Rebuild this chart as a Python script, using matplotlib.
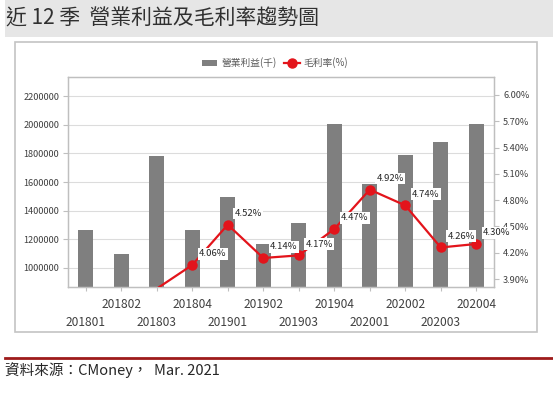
import matplotlib
matplotlib.use("Agg")
import matplotlib.pyplot as plt
from matplotlib.patches import Rectangle
from matplotlib.lines import Line2D

plt.rcParams["font.family"] = ["Noto Sans CJK TC", "DejaVu Sans"]

# 資料 (由圖讀出的估計值)
quarters = ["201801", "201802", "201803", "201804", "201901", "201902",
            "201903", "201904", "202001", "202002", "202003", "202004"]
op_income = [1265000, 1098000, 1780000, 1265000, 1493000, 1167000,
             1312000, 2007000, 1588000, 1788000, 1877000, 2007000]
# 前三季低於右軸下限,圖上看不到
gross_margin = [3.62, 3.58, 3.79, 4.06, 4.52, 4.14,
                4.17, 4.47, 4.92, 4.74, 4.26, 4.30]
left_ticks = [1000000, 1200000, 1400000, 1600000, 1800000, 2000000, 2200000]
right_ticks = [3.90, 4.20, 4.50, 4.80, 5.10, 5.40, 5.70, 6.00]

W, H = 553, 413
BAR_COLOR = "#7f7f7f"
LINE_COLOR = "#e3141b"
AXIS_COLOR = "#bfbfbf"
TEXT_COLOR = "#404040"

fig = plt.figure(figsize=(W / 100, H / 100), dpi=100)

# 標題底色與圖框 (放在座標軸後面)
fig.add_artist(Rectangle((5 / W, 1 - 37 / H), 548 / W, 37 / H,
                         transform=fig.transFigure, fc="#e6e6e6", ec="none",
                         zorder=-2))
fig.add_artist(Rectangle((15 / W, 1 - 332 / H), 522 / W, 290 / H,
                         transform=fig.transFigure, fc="white", ec="#c4c4c4",
                         lw=1.2, zorder=-2))
fig.text(6 / W, 1 - 19 / H, "近 12 季  營業利益及毛利率趨勢圖", fontsize=15,
         va="center", ha="left", color="#303030", fontweight="light")

ax = fig.add_axes([68 / W, 1 - 287 / H, 426 / W, 210 / H])
ax.patch.set_alpha(0)
x = list(range(len(quarters)))
ax.bar(x, op_income, width=0.42, color=BAR_COLOR, zorder=2)
ax.set_xlim(-0.5, len(quarters) - 0.5)
ax.set_ylim(866000, 2334000)
ax.set_yticks(left_ticks)
ax.set_yticklabels([str(v) for v in left_ticks])
ax.set_axisbelow(True)
ax.grid(axis="y", color="#dcdcdc", lw=0.8)

# x 軸標籤分上下兩排
ax.set_xticks(x)
ax.set_xticklabels([q if i % 2 else "" for i, q in enumerate(quarters)])
ax.tick_params(axis="x", length=3, color=AXIS_COLOR, pad=5, labelsize=8.6,
               labelcolor=TEXT_COLOR)
for i, q in enumerate(quarters):
    if i % 2 == 0:
        ax.annotate(q, (i, 0), xycoords=("data", "axes fraction"),
                    xytext=(0, -21), textcoords="offset points",
                    ha="center", va="top", fontsize=8.6, color=TEXT_COLOR,
                    annotation_clip=False)
ax.tick_params(axis="y", length=3.5, color=AXIS_COLOR, pad=3, labelsize=6.6,
               labelcolor=TEXT_COLOR)

ax2 = ax.twinx()
lo, hi = 3.809, 6.205
ax2.set_ylim(lo, hi)
ax2.plot(x, gross_margin, color=LINE_COLOR, lw=1.6, zorder=3)
shown = [(i, v) for i, v in zip(x, gross_margin) if v >= lo]
ax2.plot([i for i, _ in shown], [v for _, v in shown], "o", color=LINE_COLOR,
         ms=6.5, zorder=4)
for i, v in shown:
    ax2.annotate(f"{v:.2f}%", (i, v), xytext=(5, 8), textcoords="offset points",
                 ha="left", va="center", fontsize=6.8, color="#262626",
                 bbox=dict(boxstyle="square,pad=0.15", fc="white", ec="none"),
                 annotation_clip=False, zorder=5)
ax2.set_yticks(right_ticks)
ax2.set_yticklabels([f"{v:.2f}%" for v in right_ticks])
ax2.tick_params(axis="y", length=3.5, color=AXIS_COLOR, pad=3, labelsize=6.6,
                labelcolor=TEXT_COLOR)

for a in (ax, ax2):
    for s in a.spines.values():
        s.set_color(AXIS_COLOR)
        s.set_linewidth(0.9)

# 圖例
handles = [Rectangle((0, 0), 1, 1, fc=BAR_COLOR, ec="none"),
           Line2D([], [], color=LINE_COLOR, lw=1.6, marker="o", ms=6.5)]
fig.legend(handles, ["營業利益(千)", "毛利率(%)"], loc="center",
           bbox_to_anchor=(275 / W, 1 - 63 / H), ncol=2, frameon=False,
           fontsize=7, labelcolor="#595959", handlelength=1.6,
           handletextpad=0.4, columnspacing=0.8)

# 資料來源
fig.add_artist(Line2D([5 / W, 1], [1 - 358 / H, 1 - 358 / H],
                      transform=fig.transFigure, color="#9e1b1b", lw=2))
fig.text(5 / W, 1 - 370 / H, "資料來源：CMoney，  Mar. 2021", fontsize=10.5,
         va="center", ha="left", color="#262626")

fig.savefig("out.png", dpi=100)
